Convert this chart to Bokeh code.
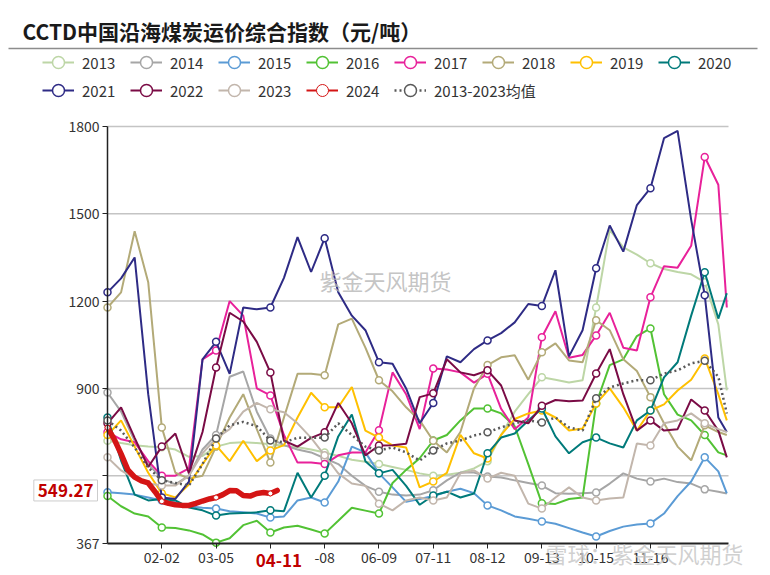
import numpy as np
from bokeh.plotting import figure
from bokeh.models import Range1d, FixedTicker, Label, Legend, LegendItem, BoxAnnotation
from bokeh.embed import file_html
from bokeh.resources import INLINE

# ---------------- data (day index from 01-01, one point every 8 days) ----------------
days = list(range(0, 361, 8)) + [365]
days_2024 = list(range(0, 101, 4))

v2013 = [720, 712, 705, 700, 698, 690, 665, 668, 700, 712, 715, 712, 708, 703, 698, 690,
         680, 668, 655, 648, 640, 630, 620, 608, 600, 603, 610, 625, 650, 740, 820, 880,
         938, 930, 920, 928, 1178, 1445, 1385, 1360, 1330, 1310, 1300, 1292, 1265, 1120, 893]
v2014 = [886, 820, 720, 640, 590, 570, 600, 690, 740, 940, 958, 820, 728, 705, 690, 680,
         660, 640, 600, 565, 545, 535, 532, 535, 550, 584, 611, 611, 597, 594, 584, 575,
         566, 540, 538, 540, 542, 573, 608, 590, 580, 590, 578, 573, 553, 545, 539]
v2015 = [543, 540, 535, 525, 515, 508, 495, 490, 487, 478, 474, 470, 456, 460, 515, 525,
         508, 580, 700, 680, 608, 560, 510, 520, 530, 545, 555, 540, 498, 481, 460, 452,
         443, 435, 420, 405, 391, 410, 425, 432, 436, 470, 530, 580, 663, 615, 539]
v2016 = [530, 495, 470, 460, 422, 420, 412, 398, 370, 385, 430, 445, 405, 422, 428, 415,
         401, 445, 490, 480, 470, 575, 620, 660, 721, 740, 790, 831, 831, 814, 770, 640,
         505, 503, 520, 525, 848, 980, 1000, 1080, 1106, 880, 810, 790, 740, 680, 670]
v2017 = [750, 725, 715, 650, 600, 600, 625, 1000, 1030, 1200, 1150, 900, 876, 740, 645, 645,
         640, 670, 680, 680, 756, 955, 880, 760, 968, 965, 955, 920, 950, 830, 760, 800,
         1076, 1165, 1005, 1015, 1082, 1160, 1040, 1030, 1213, 1320, 1315, 1390, 1695, 1600, 1178]
v2018 = [1178, 1230, 1440, 1265, 766, 610, 590, 600, 700, 800, 880, 760, 645, 800, 950, 950,
         945, 1120, 1140, 1040, 928, 890, 835, 790, 720, 680, 750, 900, 980, 1007, 1014, 930,
         1024, 1055, 996, 990, 1134, 1100, 1000, 960, 870, 780, 700, 653, 773, 750, 740]
v2019 = [740, 790, 700, 610, 540, 525, 570, 640, 704, 650, 720, 650, 687, 705, 800, 885,
         835, 835, 905, 755, 731, 704, 697, 560, 580, 610, 740, 677, 659, 740, 795, 814,
         824, 800, 755, 762, 848, 900, 835, 755, 824, 845, 893, 930, 1003, 880, 790]
v2020 = [800, 652, 535, 515, 520, 515, 491, 481, 463, 470, 472, 474, 481, 478, 610, 525,
         600, 735, 810, 650, 608, 620, 565, 500, 532, 545, 525, 539, 677, 731, 745, 790,
         831, 735, 677, 715, 731, 711, 697, 790, 824, 938, 990, 1150, 1299, 1140, 1227]
v2021 = [1230, 1278, 1350, 880, 525, 520, 580, 1000, 1060, 950, 1178, 1172, 1178, 1280, 1420, 1300,
         1416, 1230, 1150, 1100, 990, 985, 900, 780, 850, 1010, 990, 1035, 1065, 1090, 1127, 1190,
         1183, 1306, 1010, 1100, 1313, 1460, 1370, 1530, 1588, 1760, 1785, 1480, 1220, 800, 750]
v2022 = [780, 835, 730, 630, 700, 745, 608, 750, 972, 1160, 1130, 1060, 955, 720, 700, 730,
         749, 850, 780, 670, 704, 705, 710, 870, 883, 1000, 955, 945, 962, 910, 790, 780,
         840, 860, 856, 858, 951, 1035, 880, 755, 790, 755, 760, 862, 824, 755, 663]
v2023 = [663, 618, 590, 573, 566, 566, 600, 677, 728, 760, 820, 850, 828, 818, 780, 730,
         670, 608, 573, 565, 504, 481, 515, 525, 515, 525, 608, 618, 590, 610, 600, 504,
         487, 525, 560, 525, 515, 522, 525, 711, 704, 780, 790, 814, 780, 760, 750]
v2024 = [765, 725, 675, 620, 595, 582, 575, 545, 512, 505, 500, 498, 498, 505, 513, 520,
         525, 535, 549, 548, 532, 530, 539, 542, 539, 549.27]
vmean = [790, 755, 697, 628, 584, 575, 566, 640, 728, 773, 785, 770, 721, 715, 730, 730,
         731, 780, 740, 700, 687, 697, 680, 652, 687, 711, 721, 738, 749, 766, 780, 790,
         783, 800, 766, 755, 866, 903, 917, 928, 928, 951, 962, 986, 995, 940, 814]

series_names = ["2013", "2014", "2015", "2016", "2017", "2018", "2019", "2020",
                "2021", "2022", "2023", "2024", "2013-2023均值"]
colors = ["#bdd6a6", "#a6a6a6", "#5b9bd5", "#52c234", "#e8219a", "#b3aa78", "#ffc000", "#007a7a",
          "#2e2b85", "#7a0b45", "#c2b6ac", "#d41515", "#595959"]

yticks = [367, 600, 900, 1200, 1500, 1800]
ytick_labels = ["367", "", "900", "1200", "1500", "1800"]
xtick_days = [32, 64, 96, 128, 160, 192, 224, 256, 288, 320]
xtick_labels = ["02-02", "03-05", "", "-08", "06-09", "07-11", "08-12", "09-13", "10-15", "11-16"]
x_start, x_end = 0, 366
y_start, y_end = 367, 1800
last_day = 101
last_label = "04-11"
last_value = 549.27

FONT = "Noto Sans CJK SC"
W, H = 765, 572

# page-pixel placement of the data area (layout only)
PX_L, PX_R, PY_T, PY_B = 107, 728, 126, 543
K = (PX_R - PX_L) / (x_end - x_start)
S = (PY_B - PY_T) / (y_end - y_start)


def px2d(x):
    return x_start + (x - PX_L) / K


def py2v(y):
    return y_start + (PY_B - y) / S


p = figure(width=W, height=H, x_range=Range1d(px2d(0), px2d(W)), y_range=Range1d(py2v(H), py2v(0)),
           output_backend="svg", toolbar_location=None,
           min_border_left=0, min_border_right=0, min_border_top=0, min_border_bottom=0)
p.outline_line_color = None
p.xgrid.visible = False
p.ygrid.visible = False

# axes drawn at the edges of the data area
p.yaxis.fixed_location = x_start
p.xaxis.fixed_location = y_start
p.yaxis.bounds = (y_start, y_end)
p.xaxis.bounds = (x_start, x_end)
p.yaxis.ticker = FixedTicker(ticks=yticks)
p.yaxis.major_label_overrides = {t: s for t, s in zip(yticks, ytick_labels)}
p.xaxis.ticker = FixedTicker(ticks=xtick_days)
p.xaxis.major_label_overrides = {d: t for d, t in zip(xtick_days, xtick_labels)}
for ax in (p.xaxis[0], p.yaxis[0]):
    ax.axis_line_color = "#222222"
    ax.axis_line_width = 1.5
    ax.major_tick_line_color = "#222222"
    ax.major_tick_in = 0
    ax.major_tick_out = 5
    ax.minor_tick_out = 0
    ax.minor_tick_in = 0
    ax.major_label_text_font = FONT
    ax.major_label_text_font_size = "14px"
    ax.major_label_text_color = "#333333"
    ax.major_label_standoff = 3
p.xaxis.axis_line_width = 2

# horizontal grid lines at the y ticks
p.segment(x0=x_start, x1=x_end, y0=yticks[1:], y1=yticks[1:], line_color="#c4c4c4",
          line_width=1.5, level="underlay")

# title + divider
p.add_layout(Label(x=px2d(22), y=py2v(30), text="CCTD中国沿海煤炭运价综合指数（元/吨）",
                   text_font=FONT, text_font_style="bold", text_font_size="21px",
                   text_color="#1a1a1a", text_baseline="middle", text_align="left"))
p.add_layout(BoxAnnotation(left=px2d(8), right=px2d(757), top=py2v(47.2), bottom=py2v(48.8),
                           fill_color="#8c8c8c", fill_alpha=1, line_color=None))

# watermark
p.add_layout(Label(x=px2d(385), y=py2v(279), text="紫金天风期货", text_font=FONT, text_font_size="22px",
                   text_color="#b5b5b5", text_alpha=0.8, text_align="center", text_baseline="middle"))

# series
all_vals = [v2013, v2014, v2015, v2016, v2017, v2018, v2019, v2020, v2021, v2022, v2023]
legend_items = []
for name, vals, c in zip(series_names[:11], all_vals, colors[:11]):
    rl = p.line(days, vals, line_color=c, line_width=2)
    rs = p.scatter(days[::4], vals[::4], marker="circle", size=7, fill_color="white",
                   line_color=c, line_width=1.5)
    legend_items.append(LegendItem(label=name, renderers=[rl, rs]))

p.line(days_2024, v2024, line_color=colors[11], line_width=5.5, line_join="round", line_cap="round")
rs24 = p.scatter(days_2024[::8], v2024[::8], marker="circle", size=5, fill_color="white",
                 line_color=colors[11], line_width=1)
rl24 = p.line(days_2024, np.full(len(days_2024), np.nan), line_color=colors[11], line_width=2)
legend_items.append(LegendItem(label=series_names[11], renderers=[rl24, rs24]))

rlm = p.line(days, vmean, line_color=colors[12], line_width=2.5, line_dash="2 3")
rsm = p.scatter(days[::4], vmean[::4], marker="circle", size=7, fill_color="white",
                line_color=colors[12], line_width=1.5)
legend_items.append(LegendItem(label=series_names[12], renderers=[rlm, rsm]))

common = dict(orientation="horizontal", glyph_width=32, glyph_height=30, label_standoff=8,
              label_width=38, spacing=10, padding=0, margin=0, border_line_color=None,
              background_fill_alpha=0, label_text_font=FONT, label_text_font_size="15px",
              label_text_color="#333333")
p.add_layout(Legend(items=legend_items[:8], location=(42, H - 77), **common))
p.add_layout(Legend(items=legend_items[8:], location=(42, H - 105), **common))

# latest value call-outs
pad = {"padding": 4} if "padding" in Label.properties() else {}
p.add_layout(Label(x=px2d(97), y=last_value, text=f"{last_value:.2f}", text_font=FONT,
                   text_font_size="17px", text_font_style="bold", text_color="#c00000",
                   text_align="right", text_baseline="middle",
                   background_fill_color="white", border_line_color="#cccccc", **pad))
p.add_layout(Label(x=last_day, y=py2v(560), text=last_label, text_font=FONT,
                   text_font_size="17px", text_font_style="bold", text_color="#c00000",
                   text_align="center", text_baseline="middle", background_fill_color="white"))
p.add_layout(Label(x=px2d(644), y=py2v(552), text="雪球：紫金天风期货", text_font=FONT,
                   text_font_size="22px", text_color="#c8c8c8", text_alpha=0.85,
                   text_align="center", text_baseline="middle"))

open("out.html", "w").write(file_html(p, INLINE))
